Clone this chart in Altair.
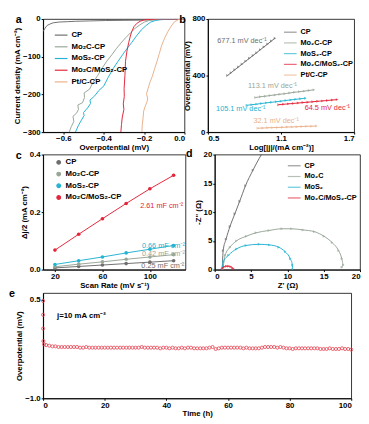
import altair as alt
import pandas as pd

FONT = "Liberation Sans"
C_CP, C_MO2C, C_MOS2, C_HET, C_PT = "#6e6e6e", "#98a698", "#24b3d2", "#e3263b", "#e9b08a"

# ---------------- panel a (LSV) ----------------
a_names = ["CP", "Mo₂C-CP", "MoS₂-CP", "Mo₂C/MoS₂-CP", "Pt/C-CP"]
a_cp_v = [-0.70, -0.69, -0.68, -0.665, -0.65, -0.62, -0.58, -0.54, -0.47, -0.39, -0.30, -0.22, -0.16, -0.10, -0.05, 0.0]
a_cp_j = [-33, -24, -17, -13, -10, -8, -7, -6, -5, -4, -3.5, -3, -2, -1, -0.5, 0]
a_mo2c_v = [-0.571, -0.560, -0.548, -0.552, -0.535, -0.525, -0.528, -0.505, -0.495, -0.497, -0.470, -0.455, -0.430, -0.405,
            -0.385, -0.360, -0.338, -0.315, -0.292, -0.268, -0.245, -0.220, -0.198, -0.175, -0.152, -0.120, -0.080, 0.0]
a_mo2c_j = [-300, -285, -272, -258, -250, -240, -228, -222, -208, -196, -186, -170, -150, -128,
            -112, -95, -79, -64, -50, -37, -25, -15, -8, -4, -2, -1, -0.5, 0]
a_mos2_v = [-0.540, -0.525, -0.510, -0.497, -0.500, -0.480, -0.465, -0.468, -0.445, -0.425, -0.400, -0.378, -0.354,
            -0.330, -0.307, -0.284, -0.261, -0.238, -0.214, -0.190, -0.167, -0.144, -0.121, -0.080, 0.0]
a_mos2_j = [-300, -282, -268, -256, -248, -236, -224, -215, -204, -190, -178, -155, -132,
            -113, -95, -78, -62, -45, -29, -17, -8, -4, -2, -0.5, 0]
a_het_v = [-0.315, -0.312, -0.308, -0.300, -0.303, -0.298, -0.299, -0.295, -0.292, -0.285, -0.276, -0.268, -0.261,
           -0.250, -0.237, -0.220, -0.198, -0.170, -0.136, -0.080, 0.0]
a_het_j = [-300, -280, -260, -240, -225, -205, -185, -150, -112, -85, -62, -45, -33, -20, -12, -6, -2, -1, 0, 0, 0]
a_pt_v = [-0.211, -0.209, -0.205, -0.202, -0.195, -0.186, -0.182, -0.188, -0.178, -0.170, -0.160, -0.148, -0.136,
          -0.125, -0.113, -0.098, -0.082, -0.066, -0.051, -0.038, -0.028, -0.015, 0.0]
a_pt_j = [-300, -280, -262, -244, -232, -220, -212, -198, -180, -166, -153, -132, -112, -92, -70, -50, -33, -19,
          -8, -4, -1, -0.3, 0]

# ---------------- panel b (Tafel) ----------------
b_cp_x = [0.66, 0.69, 0.72, 0.75, 0.78, 0.81, 0.84, 0.87, 0.90, 0.93, 0.96, 0.99, 1.02, 1.05]
b_cp_y = [400, 420, 441, 461, 481, 502, 522, 542, 562, 583, 603, 623, 644, 664]
b_mo2c_x = [0.89, 0.93, 0.97, 1.01, 1.05, 1.09, 1.13, 1.17, 1.21, 1.25, 1.29, 1.33, 1.37]
b_mo2c_y = [245, 250, 254, 259, 263, 268, 272, 277, 282, 286, 290, 295, 299]
b_mos2_x = [0.82, 0.86, 0.90, 0.94, 0.98, 1.02, 1.06, 1.10, 1.14, 1.18, 1.22, 1.26, 1.30]
b_mos2_y = [190, 194, 198, 203, 207, 211, 215, 219, 224, 228, 232, 236, 240]
b_het_x = [1.08, 1.12, 1.16, 1.20, 1.24, 1.28, 1.32, 1.36, 1.40, 1.44, 1.48, 1.52, 1.56]
b_het_y = [194, 197, 200, 203, 206, 209, 212, 215, 218, 221, 224, 227, 230]
b_pt_x = [0.91, 0.95, 0.99, 1.03, 1.07, 1.11, 1.15, 1.19, 1.23, 1.27, 1.31, 1.35, 1.39]
b_pt_y = [28, 29, 31, 32, 33, 34, 36, 37, 38, 40, 41, 42, 43]
b_notes = [(0.78, 644, "677.1 mV dec⁻¹", C_CP), (1.03, 327, "113.1 mV dec⁻¹", C_MO2C),
           (0.77, 162, "105.1 mV dec⁻¹", C_MOS2), (1.48, 167, "64.5 mV dec⁻¹", C_HET),
           (1.06, 80, "32.1 mV dec⁻¹", C_PT)]

# ---------------- panel c (Cdl) ----------------
c_names = ["CP", "Mo₂C-CP", "MoS₂-CP", "Mo₂C/MoS₂-CP"]
c_rate = [20, 40, 60, 80, 100, 120]
c_cp = [0.006, 0.011, 0.016, 0.021, 0.026, 0.031]
c_mo2c = [0.010, 0.019, 0.027, 0.036, 0.044, 0.052]
c_mos2 = [0.018, 0.031, 0.044, 0.058, 0.071, 0.084]
c_het = [0.068, 0.123, 0.177, 0.230, 0.281, 0.328]
c_notes = [(128, 0.222, "2.61 mF cm⁻²", C_HET), (129.5, 0.081, "0.66 mF cm⁻²", C_MOS2),
           (129.5, 0.055, "0.42 mF cm⁻²", C_MO2C), (129, 0.011, "0.25 mF cm⁻²", C_CP)]

# ---------------- panel d (Nyquist) ----------------
d_names = ["CP", "Mo₂C", "MoS₂", "Mo₂C/MoS₂-CP"]
d_cp_x = [1.03, 1.16, 1.56, 2.10, 2.77, 3.44, 4.24, 5.27, 6.43, 7.2]
d_cp_y = [0.0, 3.3, 5.3, 7.5, 9.7, 11.9, 14.6, 17.3, 20.0, 21.5]
d_mo2c_x = [1.12, 1.43, 2.10, 2.99, 4.33, 5.67, 7.46, 9.24, 10.58, 12.14, 13.71, 15.04, 16.16, 17.05, 17.5, 17.7, 17.5]
d_mo2c_y = [0.0, 2.5, 3.9, 5.0, 5.8, 6.4, 6.8, 7.1, 7.1, 6.9, 6.6, 5.8, 4.7, 3.3, 1.9, 0.8, 0.4]
d_mos2_x = [1.0, 1.2, 1.9, 3.0, 4.3, 6.1, 7.5, 8.8, 9.7, 10.4, 10.7, 10.7]
d_mos2_y = [0.0, 1.4, 2.5, 3.6, 4.2, 4.4, 4.3, 3.9, 3.1, 1.9, 0.8, 0.0]
d_het_x = [1.0, 1.1, 1.3, 1.6, 1.9, 2.2, 2.45, 2.6]
d_het_y = [0.0, 0.3, 0.5, 0.6, 0.6, 0.5, 0.3, 0.1]

# ---------------- panel e (stability) ----------------
e_time = [0.0, 0.0, 0.0, 0.1, 0.3] + list(range(1, 101))
e_eta = [0.48, 0.27, 0.06, -0.13, -0.18,
         -0.19, -0.20, -0.21, -0.21, -0.22, -0.22, -0.22, -0.22, -0.22, -0.22,
         -0.22, -0.23, -0.23, -0.22, -0.23, -0.23, -0.23, -0.23, -0.23, -0.23,
         -0.23, -0.23, -0.23, -0.23, -0.23, -0.23, -0.23, -0.23, -0.23, -0.23,
         -0.23, -0.22, -0.23, -0.23, -0.23, -0.23, -0.23, -0.24, -0.23, -0.23,
         -0.24, -0.23, -0.24, -0.24, -0.23, -0.24, -0.23, -0.23, -0.24, -0.24,
         -0.24, -0.24, -0.24, -0.23, -0.22, -0.25, -0.24, -0.23, -0.23, -0.23,
         -0.23, -0.23, -0.23, -0.23, -0.24, -0.23, -0.24, -0.24, -0.24, -0.24,
         -0.23, -0.22, -0.22, -0.22, -0.22, -0.23, -0.22, -0.23, -0.24, -0.24,
         -0.25, -0.24, -0.24, -0.24, -0.24, -0.24, -0.24, -0.24, -0.24, -0.25,
         -0.25, -0.25, -0.24, -0.25, -0.25, -0.25, -0.24, -0.25, -0.25, -0.26]

FS = 8


def long(names, pairs):
    rows = []
    for k, (name, (xs, ys)) in enumerate(zip(names, pairs)):
        for i, (x, y) in enumerate(zip(xs, ys)):
            rows.append({"s": name, "x": x, "y": y, "i": i, "k": k})
    return pd.DataFrame(rows)


def axis(title, values, fmt=None, **kw):
    d = dict(title=title, values=values, labelFont=FONT, titleFont=FONT, labelFontSize=FS,
             titleFontSize=FS, labelFontWeight="bold", titleFontWeight="bold", labelColor="black",
             titleColor="black", domainColor="black", tickColor="black", tickSize=2, labelPadding=1,
             titlePadding=1, grid=False, labelOverlap=False)
    if fmt:
        d["format"] = fmt
    d.update(kw)
    return alt.Axis(**d)


def legend(x, y, stype, size, **kw):
    d = dict(title=None, orient="none", legendX=x, legendY=y, symbolType=stype, symbolSize=size,
             labelFont=FONT, labelFontSize=FS, labelFontWeight="bold", labelColor="black",
             padding=0, rowPadding=0, labelOffset=3, symbolStrokeWidth=1.2)
    d.update(kw)
    return alt.Legend(**d)


def letter(t, dx, dy):
    return alt.Chart(pd.DataFrame({"t": [t]})).mark_text(
        font=FONT, fontSize=11, fontWeight="bold", align="center", baseline="middle", color="black"
    ).encode(x=alt.value(dx), y=alt.value(dy), text="t:N")


def notes(items, align="center", size=7.5):
    layers = []
    for (x, y, t, col) in items:
        layers.append(alt.Chart(pd.DataFrame({"x": [x], "y": [y], "t": [t]})).mark_text(
            font=FONT, fontSize=size, color=col, align=align, baseline="middle").encode(
            x="x:Q", y="y:Q", text="t:N"))
    return layers


# ---- a ----
dfa = long(a_names, [(a_cp_v, a_cp_j), (a_mo2c_v, a_mo2c_j), (a_mos2_v, a_mos2_j), (a_het_v, a_het_j), (a_pt_v, a_pt_j)])
pa = alt.layer(
    alt.Chart(dfa).mark_line(strokeWidth=1, clip=True).encode(
        x=alt.X("x:Q", scale=alt.Scale(domain=[-0.7, 0]), axis=axis("Overpotential (mV)", [-0.6, -0.4, -0.2, 0.0], ".1f")),
        y=alt.Y("y:Q", scale=alt.Scale(domain=[-300, 0]), axis=axis("Current density (mA cm⁻²)", [-300, -200, -100, 0])),
        color=alt.Color("s:N", scale=alt.Scale(domain=a_names, range=[C_CP, C_MO2C, C_MOS2, C_HET, C_PT]),
                        legend=legend(11, 9, "stroke", 170, rowPadding=-0.5)),
        detail="s:N", order="i:Q"),
    letter("a", -25, 1),
).properties(width=145, height=116)

# ---- b ----
dfb = long(a_names, [(b_cp_x, b_cp_y), (b_mo2c_x, b_mo2c_y), (b_mos2_x, b_mos2_y), (b_het_x, b_het_y), (b_pt_x, b_pt_y)])
bx = alt.X("x:Q", scale=alt.Scale(domain=[0.5, 1.7]), axis=axis("Log[|j|/(mA cm⁻²)]", [0.5, 0.8, 1.1, 1.4, 1.7], ".1f"))
by = alt.Y("y:Q", scale=alt.Scale(domain=[0, 800]), axis=axis("Overpotential (mV)", [0, 200, 400, 600, 800]))
bc = alt.Color("s:N", scale=alt.Scale(domain=a_names, range=[C_CP, C_MO2C, C_MOS2, C_HET, C_PT]),
               legend=legend(77, 6, "stroke", 170, rowPadding=-3.5, labelFontSize=7.5))
pb = alt.layer(
    alt.Chart(dfb).mark_line(strokeWidth=1).encode(x=bx, y=by, color=bc, detail="s:N", order="i:Q"),
    alt.Chart(dfb).mark_point(shape="triangle-right", filled=True, size=9).encode(x=bx, y=by, color=bc),
    *notes(b_notes),
    letter("b", -26, 1),
).properties(width=150, height=116)

# ---- c ----
dfc = long(c_names, [(c_rate, c_cp), (c_rate, c_mo2c), (c_rate, c_mos2), (c_rate, c_het)])
cx = alt.X("x:Q", scale=alt.Scale(domain=[10, 130]), axis=axis("Scan Rate (mV s⁻¹)", [20, 40, 60, 80, 100, 120]))
cy = alt.Y("y:Q", scale=alt.Scale(domain=[0, 0.4]), axis=axis("Δj/2 (mA cm⁻²)", [0, 0.1, 0.2, 0.3, 0.4], ".1f"))
cc = alt.Color("s:N", scale=alt.Scale(domain=c_names, range=[C_CP, C_MO2C, C_MOS2, C_HET]),
               legend=legend(12, 4, "circle", 14, rowPadding=2))
pc = alt.layer(
    alt.Chart(dfc).mark_line(strokeWidth=1).encode(x=cx, y=cy, color=cc, detail="s:N", order="i:Q"),
    alt.Chart(dfc).mark_point(shape="circle", filled=True, size=14, opacity=1).encode(x=cx, y=cy, color=cc),
    *notes(c_notes, align="right"),
    letter("c", -25, 2),
).properties(width=146, height=118)

# ---- d ----
dfd = long(d_names, [(d_cp_x, d_cp_y), (d_mo2c_x, d_mo2c_y), (d_mos2_x, d_mos2_y), (d_het_x, d_het_y)])
dx = alt.X("x:Q", scale=alt.Scale(domain=[0, 20]), axis=axis("Z' (Ω)", [0, 5, 10, 15, 20]))
dy = alt.Y("y:Q", scale=alt.Scale(domain=[0, 20]), axis=axis("-Z'' (Ω)", [0, 5, 10, 15, 20]))
dc = alt.Color("s:N", scale=alt.Scale(domain=d_names, range=[C_CP, C_MO2C, C_MOS2, C_HET]),
               legend=legend(74, 4, "stroke", 170, rowPadding=-3, labelFontSize=7.5))
pd_ = alt.layer(
    alt.Chart(dfd).mark_line(strokeWidth=1, clip=True, interpolate="monotone").encode(
        x=dx, y=dy, color=dc, detail="s:N", order="i:Q"),
    alt.Chart(dfd).mark_point(shape="triangle-right", filled=True, size=9, clip=True).encode(x=dx, y=dy, color=dc),
    letter("d", -26, 0),
).properties(width=149, height=118)

# ---- e ----
dfe = pd.DataFrame({"t": e_time, "v": e_eta})
pe = alt.layer(
    alt.Chart(dfe).mark_point(shape="circle", filled=False, size=10, strokeWidth=0.8, color="#e4404f", opacity=1).encode(
        x=alt.X("t:Q", scale=alt.Scale(domain=[0, 100]), axis=axis("Time (h)", [0, 20, 40, 60, 80, 100])),
        y=alt.Y("v:Q", scale=alt.Scale(domain=[-1.0, 0.5]), axis=axis("Overpotential (mV)", [-1.0, -0.5, 0.0, 0.5], ".1f"))),
    alt.Chart(pd.DataFrame({"x": [4.5], "y": [0.25], "t": ["j=10 mA cm⁻²"]})).mark_text(
        font=FONT, fontSize=FS, fontWeight="bold", align="left", baseline="middle", color="black").encode(
        x="x:Q", y="y:Q", text="t:N"),
    letter("e", -32, 1),
).properties(width=316, height=108)

row1 = alt.hconcat(pa, pb, spacing=-7).resolve_scale(color="independent")
row2 = alt.hconcat(pc, pd_, spacing=-1).resolve_scale(color="independent")
top = alt.vconcat(row1, row2, spacing=-5).resolve_scale(color="independent")
chart = alt.vconcat(top, pe, spacing=-3).resolve_scale(color="independent").properties(
    padding={"left": 0, "top": 0, "right": 0, "bottom": 0}, background="white"
).configure_view(stroke="black", strokeWidth=0.8)

chart.save("out.html", embed_options={"renderer": "svg", "actions": False})
